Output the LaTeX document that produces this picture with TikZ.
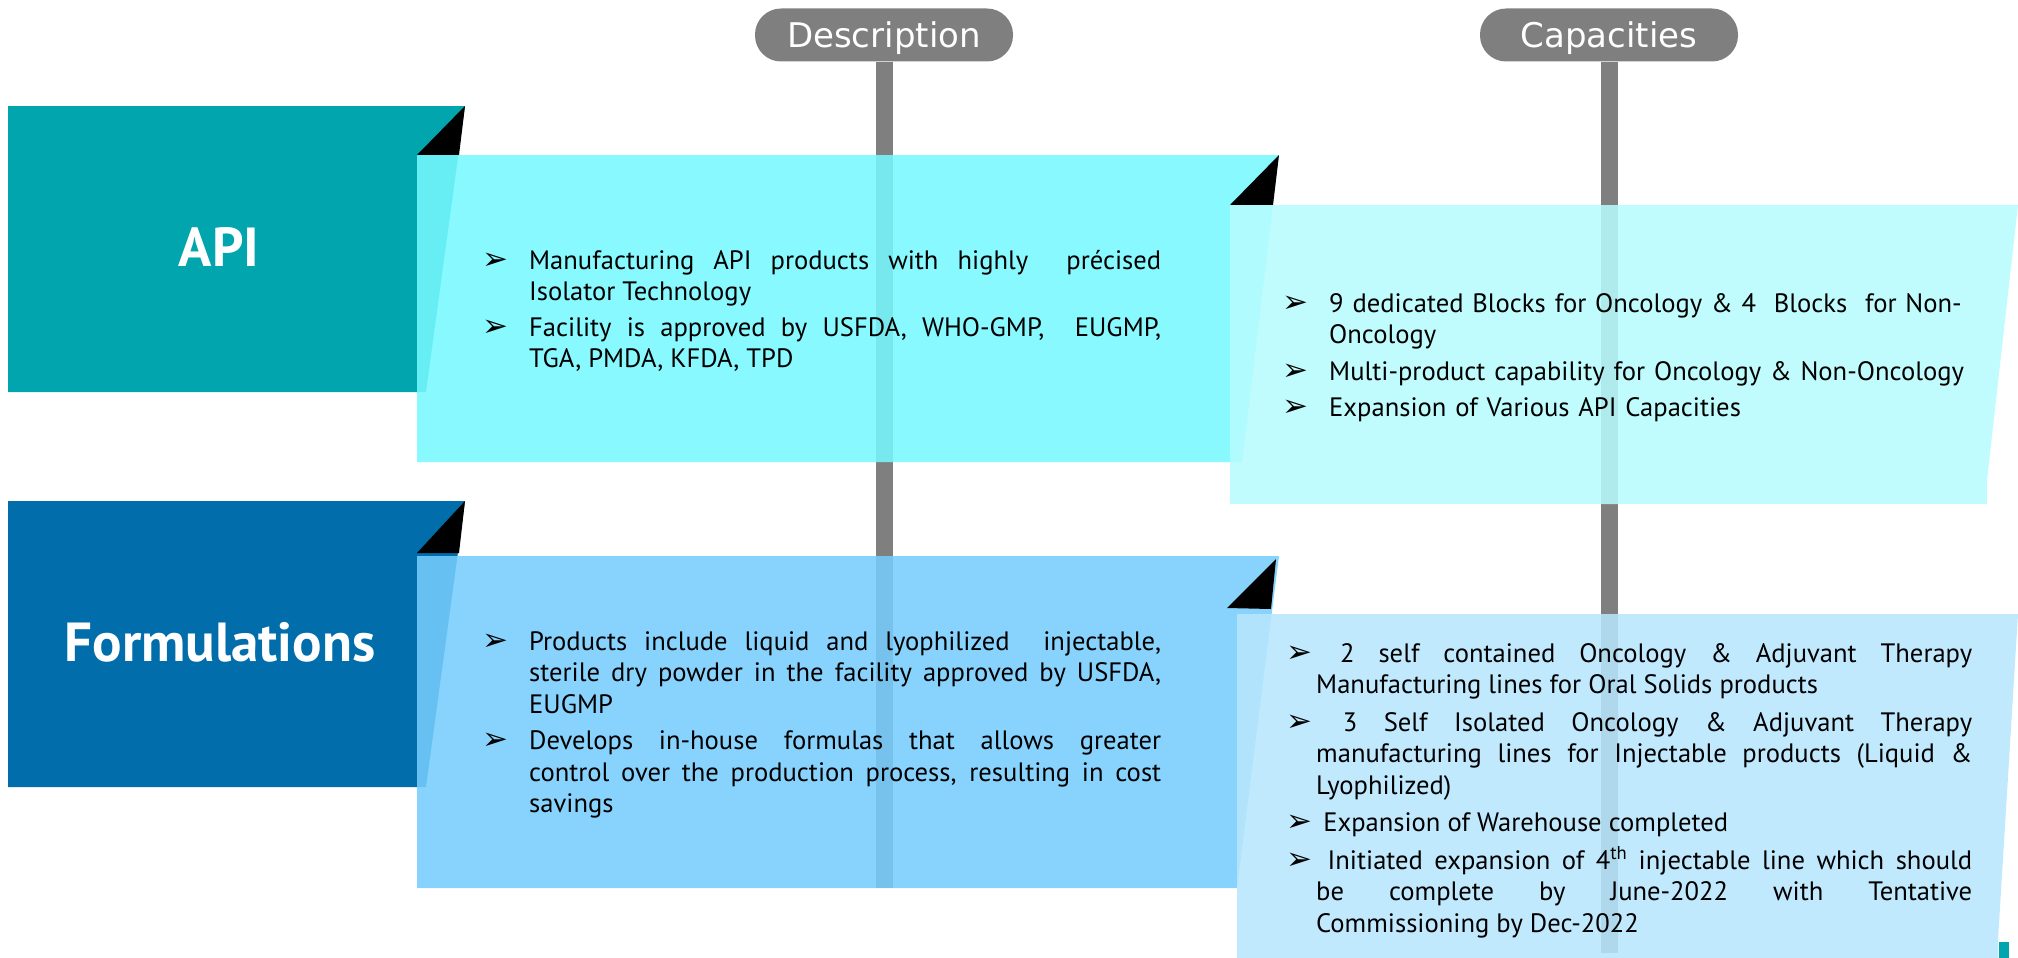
\documentclass[tikz,border=0pt]{standalone}
\usepackage{fontspec}
\setmainfont{PT Sans}
\newfontfamily\pillfont{DejaVu Sans}
\newfontfamily\symfont{DejaVu Sans}
\definecolor{tealbox}{RGB}{0,165,173}
\definecolor{bluebox}{RGB}{1,109,171}
\definecolor{descA}{RGB}{118,249,255}
\definecolor{capA}{RGB}{183,252,253}
\definecolor{descB}{RGB}{118,205,253}
\definecolor{capB}{RGB}{184,230,253}
\definecolor{pillgrey}{RGB}{127,127,127}
\newcommand\bul{{\symfont\fontsize{31}{31}\selectfont ➢}}
% first item: no \par (paragraph already started by the node)
\newcommand\fitem[1][47pt]{\hangindent=#1\hangafter=1\makebox[#1][l]{\bul}}
\newcommand\bitem[1][47pt]{\par\hangindent=#1\hangafter=1\noindent\makebox[#1][l]{\bul}}
\begin{document}
\begin{tikzpicture}[x=1pt,y=-1pt,
  pill/.style={fill=pillgrey, rounded corners=26pt, minimum width=258pt, minimum height=53pt,
    inner sep=0pt, text=white, font=\pillfont\fontsize{34}{40}\selectfont, text height=24.5pt, text depth=0pt},
  stem/.style={draw=pillgrey, line width=17pt},
  panel/.style={fill opacity=.87},
  fold/.style={fill=black},
  title/.style={text=white, font=\bfseries\fontsize{55}{60}\selectfont, inner sep=0pt},
  body/.style={anchor=base west, inner sep=0pt, text width=#1, font=\fontsize{26.6}{31.5}\selectfont},
]
\useasboundingbox (0,0) rectangle (2018,958);

% headers and stems
\node[pill] (pd) at (884,35) {Description};
\node[pill] (pc) at (1609,35) {Capacities};
\coordinate (dEnd) at (884,888);
\coordinate (cEnd) at (1609,953);
\draw[stem] (pd.south) -- (dEnd);
\draw[stem] (pc.south) -- (cEnd);

% left boxes
\fill[tealbox] (8,106) -- (465,106) -- (426,392) -- (8,392) -- cycle;
\fill[bluebox] (8,501) -- (465,501) -- (426,787) -- (8,787) -- cycle;
\fill[fold] (465,106) -- (417,155) -- (459,155) -- cycle;
\fill[fold] (465,501) -- (417,553) -- (459,553) -- cycle;

% description panels
\fill[panel, descA] (417,155) -- (1279,155) -- (1242,462) -- (417,462) -- cycle;
\fill[panel, descB] (417,556) -- (1279,556) -- (1237,888) -- (417,888) -- cycle;
\fill[fold] (1279,155) -- (1230,205) -- (1273,205) -- cycle;
\fill[fold] (1276,559) -- (1227,608) -- (1271,609) -- cycle;

% capacity panels
\fill[panel, capA] (1230,205) -- (2018,205) -- (1987,480) -- (1987,504) -- (1230,504) -- cycle;
\fill[panel, capB] (1237,614) -- (2018,614) -- (1998,940) -- (1998,958) -- (1237,958) -- cycle;
\fill[tealbox] (1999,942) rectangle (2009,958);

% titles
\node[title] (api) at (219,247) {API};
\node[title] (form) at (220,642) {Formulations};

% texts
\node[body=679pt, align=justify] (d1) at (482,269) {\setlength\parskip{4pt}%
\fitem Manufacturing API products with highly\ \ précised\linebreak Isolator Technology
\bitem Facility is approved by USFDA, WHO-GMP,\ \ EUGMP,\linebreak TGA, PMDA, KFDA, TPD\par};

\node[body=679pt, align=justify] (d2) at (482,650) {\setlength\parskip{5pt}%
\fitem Products include liquid and lyophilized\ \ injectable,\linebreak sterile dry powder in the facility approved by USFDA,\linebreak EUGMP
\bitem Develops in-house formulas that allows greater\linebreak control over the production process, resulting in cost\linebreak savings\par};

\node[body=720pt, align=left] (c1) at (1282,312) {\setlength\parskip{5pt}%
\fitem 9 dedicated Blocks for Oncology \& 4\ \ Blocks\ \ for Non-\newline Oncology
\bitem Multi-product capability for Oncology \& Non-Oncology
\bitem Expansion of Various API Capacities\par};

\node[body=686pt, align=justify] (c2) at (1286,662) {\setlength\parskip{6pt}%
\fitem[30pt] 2 self contained Oncology \& Adjuvant Therapy\linebreak Manufacturing lines for Oral Solids products
\bitem[30pt] 3 Self Isolated Oncology \& Adjuvant Therapy\linebreak manufacturing\ lines for\ Injectable\ products (Liquid \&\linebreak Lyophilized)
\bitem[30pt] Expansion of Warehouse completed
\bitem[30pt] Initiated expansion of 4\textsuperscript{th} injectable line which should\linebreak be complete by June-2022 with Tentative\linebreak Commissioning by Dec-2022\par};
\end{tikzpicture}
\end{document}
